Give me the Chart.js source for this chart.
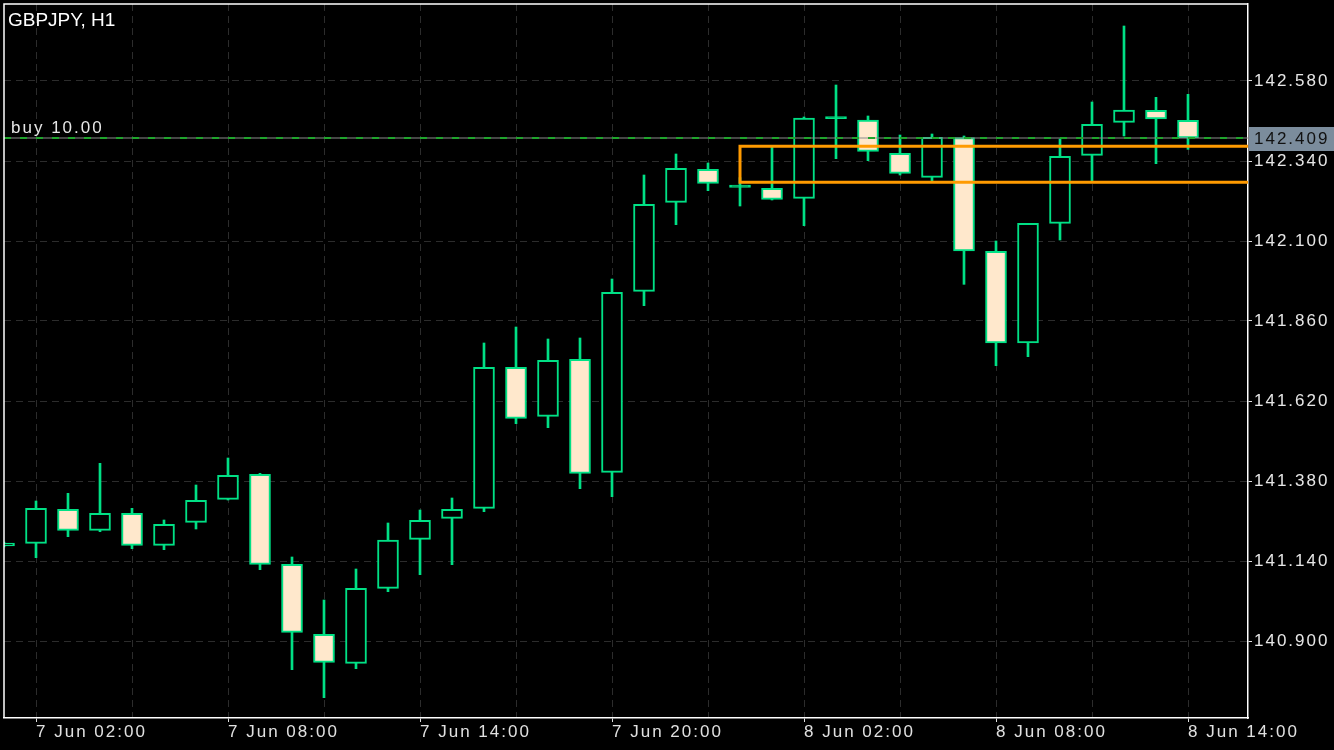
<!DOCTYPE html>
<html>
<head>
<meta charset="utf-8">
<script src="https://cdn.jsdelivr.net/npm/chart.js@4"></script>
<style>
  html, body { margin: 0; padding: 0; background: #000; }
  #wrap { width: 1334px; height: 750px; }
</style>
</head>
<body>
<div id="wrap"><canvas id="chart" width="1334" height="750"></canvas></div>
<script>
// hours counted from 7 Jun 00:00, one H1 candle each
const hours = [1, 2, 3, 4, 5, 6, 7, 8, 9, 10, 11, 12, 13, 14, 15, 16, 17, 18, 19, 20,
               21, 22, 23, 24, 25, 26, 27, 28, 29, 30, 31, 32, 33, 34, 35, 36, 37, 38];
const opens = [141.185, 141.193, 141.295, 141.232, 141.283, 141.187, 141.256, 141.325, 141.400, 141.130,
               140.920, 140.833, 141.058, 141.205, 141.268, 141.298, 141.721, 141.574, 141.745, 141.406,
               141.949, 142.216, 142.315, 142.261, 142.258, 142.228, 142.467, 142.463, 142.363, 142.291,
               142.410, 142.069, 141.794, 142.153, 142.357, 142.456, 142.492, 142.462];
const highs = [141.197, 141.320, 141.343, 141.433, 141.298, 141.263, 141.368, 141.449, 141.403, 141.152,
               141.023, 141.116, 141.254, 141.293, 141.329, 141.794, 141.842, 141.806, 141.809, 141.986,
               142.298, 142.361, 142.334, 142.290, 142.381, 142.472, 142.568, 142.475, 142.418, 142.421,
               142.415, 142.100, 142.153, 142.406, 142.517, 142.745, 142.531, 142.540];
const lows = [141.182, 141.150, 141.213, 141.228, 141.177, 141.174, 141.236, 141.323, 141.114, 140.814,
              140.730, 140.817, 141.048, 141.099, 141.129, 141.288, 141.552, 141.540, 141.357, 141.333,
              141.906, 142.149, 142.251, 142.205, 142.223, 142.146, 142.347, 142.341, 142.298, 142.281,
              141.970, 141.726, 141.753, 142.103, 142.281, 142.415, 142.332, 142.375];
const closes = [141.194, 141.298, 141.232, 141.283, 141.187, 141.250, 141.322, 141.397, 141.130, 140.926,
                140.836, 141.058, 141.203, 141.262, 141.295, 141.721, 141.568, 141.742, 141.403, 141.946,
                142.210, 142.318, 142.273, 142.268, 142.225, 142.469, 142.469, 142.369, 142.303, 142.411,
                142.070, 141.794, 142.153, 142.354, 142.450, 142.493, 142.466, 142.409];

const yTicks = [140.900, 141.140, 141.380, 141.620, 141.860, 142.100, 142.340, 142.580];
const xGridHours = [2, 5, 8, 11, 14, 17, 20, 23, 26, 29, 32, 35, 38];
const xLabelHours = [2, 8, 14, 20, 26, 32, 38];
const xLabels = ['7 Jun 02:00', '7 Jun 08:00', '7 Jun 14:00', '7 Jun 20:00', '8 Jun 02:00', '8 Jun 08:00', '8 Jun 14:00'];

const symbolTitle = 'GBPJPY, H1';
const buyLabel = 'buy 10.00';
const buyPrice = 142.409;
const boxStartHour = 24;
const boxTop = 142.384;
const boxBottom = 142.276;

const GREEN = '#00e085';
const CREAM = '#ffe8cc';
const ORANGE = '#ff9a00';

Chart.defaults.font.family = '"Liberation Sans", Arial, sans-serif';

const overlay = {
    id: 'overlay',
    beforeDraw(chart) {
        chart.ctx.letterSpacing = '2px';
    },
    afterDraw(chart) {
        const { ctx, chartArea: a, scales } = chart;
        const py = scales.y.getPixelForValue(buyPrice);
        ctx.save();
        // frame top + left
        ctx.strokeStyle = '#ffffff';
        ctx.lineWidth = 1.5;
        ctx.beginPath();
        ctx.moveTo(a.left, a.bottom);
        ctx.lineTo(a.left, a.top);
        ctx.lineTo(a.right, a.top);
        ctx.stroke();

        // buy label
        ctx.letterSpacing = '2px';
        ctx.font = '17px "Liberation Sans", Arial, sans-serif';
        ctx.fillStyle = '#e6e6e6';
        ctx.textBaseline = 'alphabetic';
        ctx.textAlign = 'left';
        ctx.fillText(buyLabel, 11, py - 5);

        // price box on the right axis
        ctx.fillStyle = '#7b8c9c';
        ctx.fillRect(a.right + 1, py - 11, chart.width - a.right - 1, 24);
        ctx.fillStyle = '#111111';
        ctx.textBaseline = 'middle';
        ctx.fillText(buyPrice.toFixed(3), a.right + 6, py + 1);

        // title
        ctx.letterSpacing = '0px';
        ctx.font = '19px "Liberation Sans", Arial, sans-serif';
        ctx.fillStyle = '#ffffff';
        ctx.textBaseline = 'alphabetic';
        ctx.fillText(symbolTitle, 8, 26);
        ctx.restore();
    }
};

const bodyFill = ctx => {
    const i = ctx.dataIndex;
    if (Math.abs(closes[i] - opens[i]) < 0.008) return GREEN; // doji
    return closes[i] < opens[i] ? CREAM : '#000000';
};

new Chart(document.getElementById('chart'), {
    type: 'bar',
    data: {
        datasets: [
            {
                type: 'line',
                order: 0,
                data: [
                    { x: 41, y: boxTop }, { x: boxStartHour, y: boxTop },
                    { x: boxStartHour, y: boxBottom }, { x: 41, y: boxBottom }
                ],
                borderColor: ORANGE,
                borderWidth: 3,
                borderJoinStyle: 'miter',
                pointRadius: 0,
                tension: 0
            },
            {
                type: 'line',
                order: 1,
                data: [{ x: 0, y: buyPrice }, { x: 41, y: buyPrice }],
                borderColor: '#1fa52c',
                borderWidth: 2,
                borderDash: [7, 9],
                pointRadius: 0
            },
            {
                type: 'line',
                order: 1.5,
                data: [{ x: 0, y: buyPrice }, { x: 41, y: buyPrice }],
                borderColor: '#8c8c8c',
                borderWidth: 1,
                pointRadius: 0
            },
            {
                // bodies
                order: 2,
                data: hours.map((h, i) => ({ x: h, y: [opens[i], closes[i]] })),
                backgroundColor: bodyFill,
                borderColor: GREEN,
                borderWidth: 2,
                borderSkipped: false,
                barThickness: 21,
                minBarLength: 2,
                grouped: false
            },
            {
                // wicks
                order: 3,
                data: hours.map((h, i) => ({ x: h, y: [lows[i], highs[i]] })),
                backgroundColor: GREEN,
                borderWidth: 0,
                barThickness: 2,
                grouped: false
            }
        ]
    },
    options: {
        responsive: false,
        animation: false,
        devicePixelRatio: 1,
        layout: { padding: { left: 4, top: 4, right: 0, bottom: 0 } },
        plugins: { legend: { display: false }, tooltip: { enabled: false } },
        scales: {
            x: {
                type: 'linear',
                offset: false,
                min: 1,
                max: 39.875,
                afterBuildTicks: s => { s.ticks = xGridHours.map(v => ({ value: v })); },
                afterFit: s => { s.height = 32; s.paddingLeft = 0; s.paddingRight = 0; },
                ticks: {
                    autoSkip: false,
                    maxRotation: 0,
                    align: 'start',
                    padding: 0,
                    color: '#e0e0e0',
                    font: { size: 17 },
                    callback: v => {
                        const k = xLabelHours.indexOf(v);
                        return k >= 0 ? xLabels[k] : '';
                    }
                },
                grid: {
                    offset: false,
                    color: '#2c2c2c',
                    lineWidth: 1,
                    tickLength: 4,
                    tickColor: ctx => (ctx.tick && xLabelHours.includes(ctx.tick.value)) ? '#e0e0e0' : 'rgba(0,0,0,0)'
                },
                border: { color: '#ffffff', width: 1.5, dash: [7, 5] }
            },
            y: {
                position: 'right',
                min: 140.669,
                max: 142.811,
                afterBuildTicks: s => { s.ticks = yTicks.map(v => ({ value: v })); },
                afterFit: s => { s.width = 86; s.paddingTop = 0; s.paddingBottom = 0; },
                ticks: {
                    padding: 2,
                    color: '#e6e6e6',
                    font: { size: 17 },
                    callback: v => Number(v).toFixed(3)
                },
                grid: {
                    color: '#2c2c2c',
                    lineWidth: 1,
                    tickLength: 4,
                    tickColor: '#e0e0e0'
                },
                border: { color: '#ffffff', width: 1.5, dash: [7, 5] }
            }
        }
    },
    plugins: [overlay]
});
</script>
</body>
</html>
